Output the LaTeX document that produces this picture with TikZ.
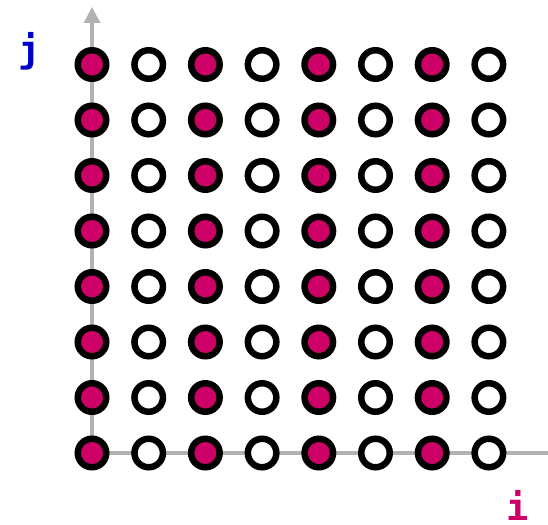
\documentclass[tikz,border=0pt]{standalone}
\usepackage{fontspec}
\newfontfamily\monob{DejaVu Sans Mono}
\usetikzlibrary{arrows.meta}
\definecolor{dotfill}{RGB}{204,0,102}
\definecolor{jblue}{RGB}{0,0,204}
\definecolor{axisgray}{RGB}{178,178,178}
\begin{document}
\begin{tikzpicture}[x=1pt,y=-1pt,
  axisline/.style={draw=axisgray,line width=3.5pt},
  pt/.style={circle,draw=black,line width=6.5pt,minimum size=28.5pt,inner sep=0pt},
  filledpt/.style={pt,fill=dotfill},
  openpt/.style={pt,fill=white},
  lbl/.style={font=\monob\bfseries\fontsize{37}{37}\selectfont,anchor=base,inner sep=0pt}]
\useasboundingbox (0,0) rectangle (548,524);
\coordinate (origin) at (92,453);
\coordinate (ytip) at (92,7);
\coordinate (xend) at (548,453);
\draw[axisline,-{Triangle[width=16pt,length=16pt]}] (origin) -- (ytip);
\draw[axisline] (origin) -- (xend);
\foreach \i in {0,...,7}{
  \foreach \j in {0,...,7}{
    \pgfmathtruncatemacro{\ev}{mod(\i,2)}
    \ifnum\ev=0
      \node[filledpt] (c\i\j) at (92+56.7*\i,453-55.5*\j) {};
    \else
      \node[openpt] (c\i\j) at (92+56.7*\i,453-55.5*\j) {};
    \fi
  }
}
\node[lbl,text=jblue] (jl) at (30,63) {j};
\node[lbl,text=dotfill] (il) at (518,520) {i};
\end{tikzpicture}
\end{document}
